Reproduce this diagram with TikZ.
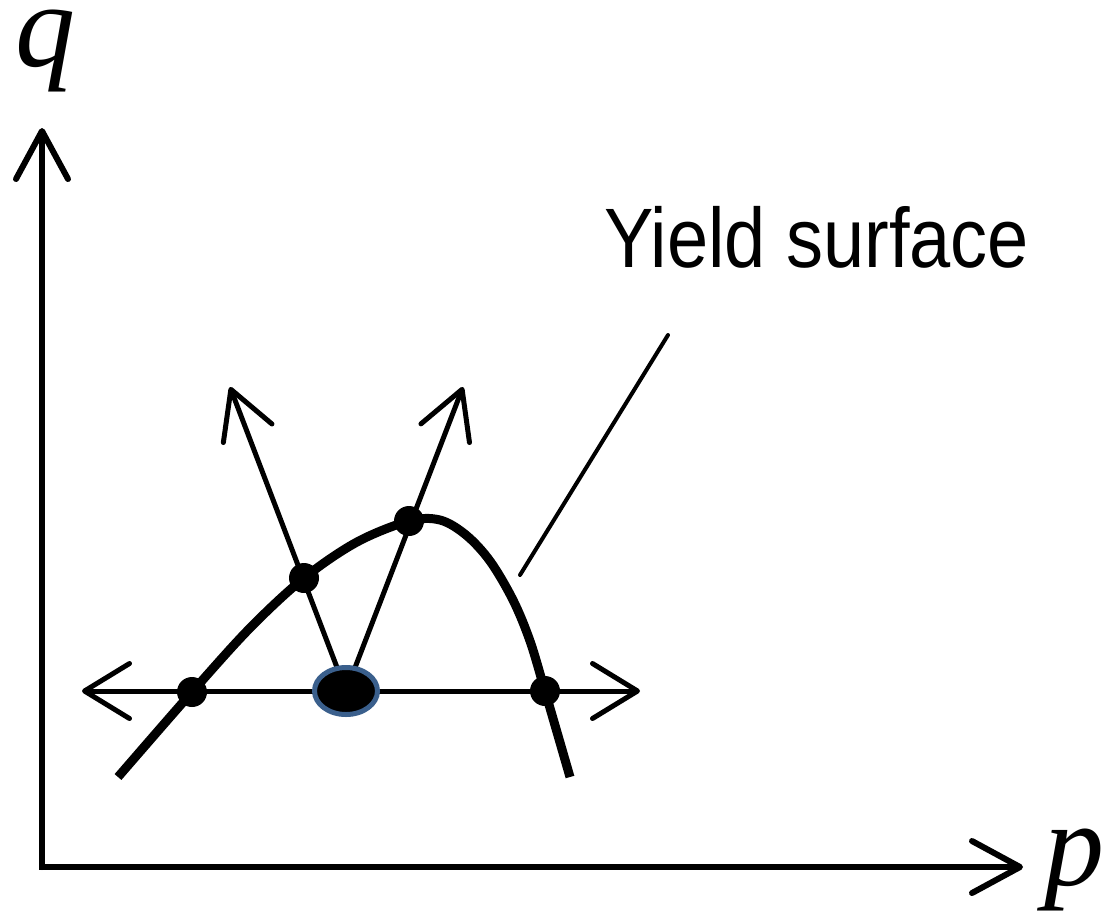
\documentclass[tikz,border=0pt]{standalone}
\usepackage{fontspec}
\setmainfont{Liberation Serif}
\newfontfamily\labelsans{Liberation Sans}
\usetikzlibrary{arrows.meta,shapes.geometric}
\definecolor{rimblue}{RGB}{58,95,140}
\tikzset{
  axis/.style={line width=6pt, line cap=round, line join=round,
    -{Straight Barb[length=48pt,width=52pt,line width=6pt,round]}},
  vec/.style={line width=5pt, line cap=round,
    -{Straight Barb[length=47pt,width=52pt,line width=5pt,round]}},
  bivec/.style={line width=5pt, line cap=round,
    {Straight Barb[length=45pt,width=55pt,line width=5pt,round]}-{Straight Barb[length=45pt,width=55pt,line width=5pt,round]}},
  dot/.style={circle, fill=black, inner sep=0pt, minimum size=30pt},
  state/.style={ellipse, fill=black, draw=rimblue, line width=5pt, inner sep=0pt,
    minimum width=63pt, minimum height=47pt},
  surf/.style={line width=9pt, line cap=butt, line join=round},
  leader/.style={line width=4pt, line cap=round}
}
\begin{document}
\begin{tikzpicture}[x=1pt,y=-1pt]
\useasboundingbox (0,0) rectangle (1102,914);
% axes
\coordinate (O) at (42,867);
\coordinate (qtip) at (42,128);
\coordinate (ptip) at (1023,867);
\draw[line width=6pt, line join=miter] ([yshift=20pt]O) -- (O) -- ([xshift=20pt]O);
\draw[axis] (O) -- (qtip);
\draw[axis] (O) -- (ptip);
\node[font=\fontsize{120}{120}\selectfont\itshape, anchor=base, inner sep=0pt] (qlab) at (46,66) {q};
\node[font=\fontsize{120}{120}\selectfont\itshape, anchor=base west, inner sep=0pt] (plab) at (1044,885) {p};
% coordinates
\coordinate (c0) at (346,691);
\coordinate (hl) at (82,691);
\coordinate (hr) at (640,691);
\coordinate (tl) at (230,387);
\coordinate (tr) at (463,387);
% vectors
\draw[bivec] (hl) -- (hr);
\draw[vec] (c0) -- (tl);
\draw[vec] (c0) -- (tr);
% yield surface
\draw[surf] plot[smooth, tension=0.55] coordinates {(118,777) (192,692) (250,628) (304,578) (357,542) (409,521) (440,520) (466,535) (490,561) (513,600) (530,641) (545,691) (570,777)};
% dots
\node[dot] (d1) at (192,692) {};
\node[dot] (d2) at (304,578) {};
\node[dot] (d3) at (409,521) {};
\node[dot] (d4) at (545,691) {};
\node[state] (c) at (c0) {};
% label and leader
\node[font=\labelsans\fontsize{74}{80}\selectfont, anchor=base west, inner sep=0pt] (ys) at (604,267) {\scalebox{1}[1.14]{Yield surface}};
\coordinate (ls) at (668,335);
\coordinate (le) at (520,575);
\draw[leader] (ls) -- (le);
\end{tikzpicture}
\end{document}
